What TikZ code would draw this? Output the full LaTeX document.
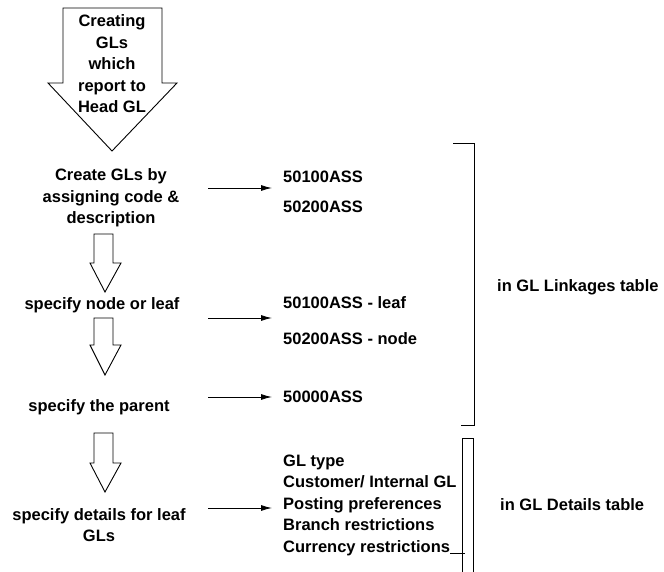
\documentclass[tikz,border=0pt]{standalone}
\usepackage{fontspec}
\setmainfont{Liberation Sans}
\usetikzlibrary{arrows.meta}
\begin{document}
\begin{tikzpicture}[x=1pt,y=-1pt,
  txt/.style={font=\fontsize{16.5}{21.5}\selectfont\bfseries, inner sep=0pt},
  blockarrow/.style={draw=black, line width=0.9pt, fill=white, line join=miter},
  link/.style={draw=black, line width=0.9pt, -{Latex[length=11pt,width=6pt]}},
  brk/.style={draw=black, line width=1pt}]
\useasboundingbox (0,0) rectangle (664,572);
% big block arrow
\draw[blockarrow] (63,8) -- (162,8) -- (162,83) -- (177,83) -- (112,151) -- (48,83) -- (63,83) -- cycle;
\node[txt, align=center] (head) at (112,64) {Creating\\GLs\\which\\report to\\Head GL};
% steps
\node[txt, align=center] (s1) at (111,198) {Create GLs by\\assigning code \&\\description};
\node[txt] (s2) at (102,305) {specify node or leaf};
\node[txt] (s3) at (99,407) {specify the parent};
\node[txt, align=center] (s4) at (99,525) {specify details for leaf\\GLs};
% small block arrows
\draw[blockarrow] (94,234) -- (113,234) -- (113,263) -- (121,263) -- (105,292) -- (90,263) -- (94,263) -- cycle;
\draw[blockarrow] (94,318) -- (113,318) -- (113,345) -- (121,345) -- (105,375) -- (90,345) -- (94,345) -- cycle;
\draw[blockarrow] (94,433) -- (113,433) -- (113,463) -- (121,463) -- (105,492) -- (90,463) -- (94,463) -- cycle;
% right texts
\node[txt, anchor=west] (r1) at (283,177) {50100ASS};
\node[txt, anchor=west] (r2) at (283,207) {50200ASS};
\node[txt, anchor=west] (r3) at (283,303) {50100ASS - leaf};
\node[txt, anchor=west] (r4) at (283,339) {50200ASS - node};
\node[txt, anchor=west] (r5) at (283,397) {50000ASS};
\node[txt, anchor=west, align=left] (r6) at (283,505) {GL type\\Customer/ Internal GL\\Posting preferences\\Branch restrictions\\Currency restrictions};
% connectors
\coordinate (c1s) at (208,188); \coordinate (c1e) at (272,188);
\coordinate (c2s) at (208,318); \coordinate (c2e) at (272,318);
\coordinate (c3s) at (208,397); \coordinate (c3e) at (272,397);
\coordinate (c4s) at (208,508); \coordinate (c4e) at (272,508);
\draw[link] (c1s) -- (c1e);
\draw[link] (c2s) -- (c2e);
\draw[link] (c3s) -- (c3e);
\draw[link] (c4s) -- (c4e);
% brackets
\draw[brk] (453,144) -- (474,144) -- (474,425) -- (461,425);
\node[txt, anchor=west] (t1) at (497,287) {in GL Linkages table};
\draw[brk] (462,572) -- (462,438) -- (473,438) -- (473,572);
\draw[brk] (450,553) -- (465,553);
\node[txt, anchor=west] (t2) at (500,505) {in GL Details table};
\end{tikzpicture}
\end{document}
